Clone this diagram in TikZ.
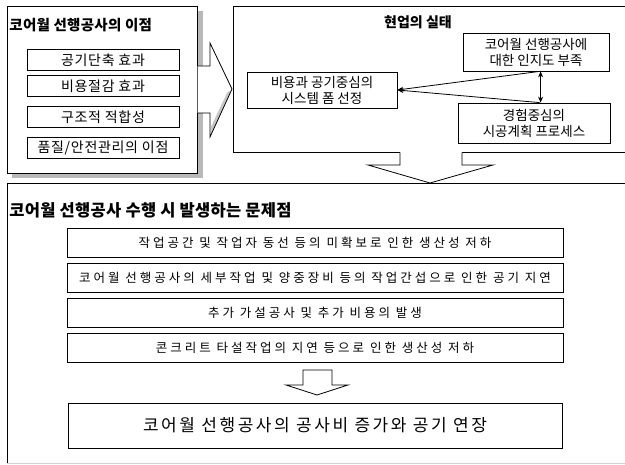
\documentclass[tikz,border=0pt]{standalone}
\usepackage{fontspec}
\setmainfont{Noto Sans CJK KR}
\newfontfamily\krwide[LetterSpace=24]{Noto Sans CJK KR}
\newfontfamily\krmid[LetterSpace=15]{Noto Sans CJK KR}
\newfontfamily\krsmall[LetterSpace=5]{Noto Sans CJK KR}
\newfontfamily\krtitle[LetterSpace=2]{Noto Sans CJK KR}
\usetikzlibrary{arrows.meta}
\begin{document}
\begin{tikzpicture}[x=1pt,y=-1pt, line width=0.8pt,
  ttl/.style={font=\krtitle\fontsize{#1}{18}\selectfont\bfseries, inner sep=0, anchor=west},
  lbox/.style={draw, minimum width=152pt, minimum height=21pt, inner sep=0, font=\krsmall\fontsize{14}{16}\selectfont},
  rbox/.style={draw, inner sep=0, align=center, font=\fontsize{13.5}{16}\selectfont},
  pbox/.style={draw, minimum width=496pt, minimum height=29pt, inner sep=0, font=\krwide\fontsize{12.5}{14}\selectfont},
  frame/.style={minimum width=#1, inner sep=0, anchor=north west},
  tipend/.style={-{Stealth[length=6pt,width=5pt]}},
  bothend/.style={{Stealth[length=6pt,width=5pt]}-{Stealth[length=6pt,width=5pt]}},
  shade/.style={fill=gray!55}
  ]
\useasboundingbox (0,0) rectangle (625,465);
\clip (0,0) rectangle (625,465);
\fill[white] (0,0) rectangle (625,465);

% left box with shadow
\fill[shade] (12,11) rectangle (203,178);
\node[draw, fill=white, frame=190pt, minimum height=167pt] (adv) at (7,6) {};
\node[ttl=14.5] (advt) at (9,25) {코어월 선행공사의 이점};
\node[lbox] (a1) at (103,60) {공기단축 효과};
\node[lbox] (a2) at (103,86) {비용절감 효과};
\node[lbox] (a3) at (103,117) {구조적 적합성};
\node[lbox] (a4) at (103,148) {품질/안전관리의 이점};

% right box
\node[draw, frame=420pt, minimum height=146pt] (real) at (233,6) {};

% block arrow left -> right
\fill[white] (197.5,66) -- (210,66) -- (210,43) -- (232,89) -- (210,137) -- (210,113) -- (197.5,113) -- cycle;
\fill[gray!45] (230.5,91) -- (211,134) -- (211,127) -- (227.5,92) -- cycle;
\draw (197.5,66) -- (210,66) -- (210,43) -- (232,89) -- (210,137) -- (210,113) -- (197.5,113);

\node[font=\fontsize{14}{16}\selectfont\bfseries, inner sep=0] (realt) at (418,22) {현업의 실태};
\node[rbox, minimum width=150pt, minimum height=36pt] (sys) at (322,90) {비용과 공기중심의\\시스템 폼 선정};
\node[rbox, minimum width=146pt, minimum height=38pt] (k1) at (536,52) {코어월 선행공사에\\대한 인지도 부족};
\node[rbox, minimum width=152pt, minimum height=40pt] (k2) at (534,123) {경험중심의\\시공계획 프로세스};
\draw[tipend] ([xshift=77pt]k1.south west) -- (sys.east);
\draw[tipend] ([xshift=82pt]k2.north west) -- (sys.east);
\draw[bothend] ([xshift=78pt]k1.south west) -- ([xshift=83pt]k2.north west);

% block arrow down
\fill[white] (400,150) -- (400,165) -- (368,165) -- (430,183) -- (493,165) -- (462,165) -- (462,150) -- cycle;
\draw (400,152.4) -- (400,165) -- (368,165) -- (430,183) -- (493,165) -- (462,165) -- (462,152.4);

% bottom box
\node[frame=640pt, minimum height=280pt] (prob) at (7,183) {};
\draw (prob.south west) -- (prob.north west) -- (prob.north east);
\draw[gray!35] (prob.south west) -- (prob.south east);
\node[ttl=16.5] (probt) at (9,210) {코어월 선행공사 수행 시 발생하는 문제점};
\node[pbox] (p1) at (315,242.5) {작업공간 및 작업자 동선 등의 미확보로 인한 생산성 저하};
\node[pbox] (p2) at (315,277.5) {코어월 선행공사의 세부작업 및 양중장비 등의 작업간섭으로 인한 공기 지연};
\node[pbox] (p3) at (315,312.5) {추가 가설공사 및 추가 비용의 발생};
\node[pbox] (p4) at (315,347.5) {콘크리트 타설작업의 지연 등으로 인한 생산성 저하};

\draw (303,370) -- (332,370) -- (332,385) -- (348,385) -- (317,395) -- (286,385) -- (303,385) -- cycle;

\node[draw, minimum width=494pt, minimum height=45pt, inner sep=0, font=\krmid\fontsize{17}{20}\selectfont] (res) at (315,425.5) {코어월 선행공사의 공사비 증가와 공기 연장};
\end{tikzpicture}
\end{document}
